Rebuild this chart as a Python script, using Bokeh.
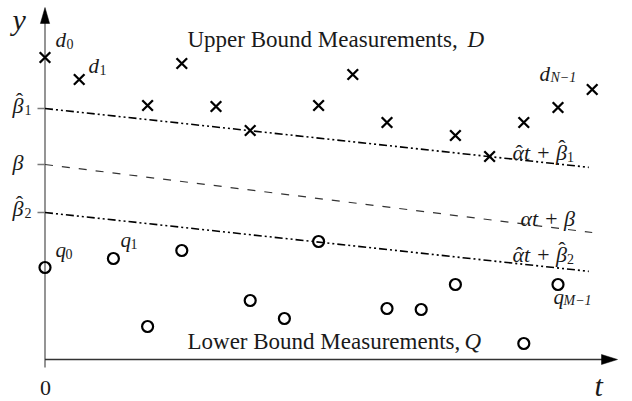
from bokeh.plotting import figure
from bokeh.models import Range1d, Label
from bokeh.embed import file_html
from bokeh.resources import INLINE

# Upper-bound measurements d_i (crosses) and their sample times
T_UPPER = [0, 1, 3, 4, 5, 6, 8, 9, 10, 12, 13, 14, 15, 16]
D_VALUES = [30.2, 28.0, 25.4, 29.6, 25.3, 22.9, 25.4, 28.5, 23.7, 22.4, 20.3, 23.7, 25.2, 27.0]

# Lower-bound measurements q_j (circles) and their sample times
T_LOWER = [0, 2, 3, 4, 6, 7, 8, 10, 11, 12, 14, 15]
Q_VALUES = [9.2, 10.1, 3.3, 10.9, 5.9, 4.1, 11.8, 5.1, 5.0, 7.5, 1.6, 7.5]

# Line parameters: estimated bounds and true line
ALPHA_HAT = -0.37
BETA_HAT_1 = 25.1
BETA_HAT_2 = 14.7
ALPHA = -0.425
BETA = 19.5
T_END_HAT = 15.9
T_END_TRUE = 16.0

W, H = 632, 401
X0_PX, STEP_PX = 44.5, 34.2      # t = 0 position and pixels per time step
Y0_PX, UNIT_PX = 359.0, 10.0     # y = 0 position and pixels per y unit
LABEL_SHIFT = 8                  # screen-unit labels render this many px low


def X(px):
    return (px - X0_PX) / STEP_PX


def Y(py):
    return (Y0_PX - py) / UNIT_PX


p = figure(width=W, height=H, x_range=Range1d(X(0), X(W)), y_range=Range1d(Y(H), Y(0)),
           x_axis_type=None, y_axis_type=None, toolbar_location=None,
           output_backend="svg", min_border=0, outline_line_color=None,
           background_fill_color="white", border_fill_color="white")
p.grid.visible = False

AX_GREY = "#7a7a7a"
INK = "#1a1a1a"

# y axis with arrow head
p.line([0, 0], [Y(367), Y(21)], line_color=AX_GREY, line_width=1.6)
p.patch([X(X0_PX), X(X0_PX - 4.6), X(X0_PX + 4.6)], [Y(7), Y(23), Y(23)],
        fill_color="black", line_color="black", line_width=0.5)
# t axis with arrow head
p.line([0, X(603)], [0, 0], line_color="#333333", line_width=1.6)
p.patch([X(617), X(601), X(601)], [0, Y(Y0_PX - 5), Y(Y0_PX + 5)],
        fill_color="black", line_color="black", line_width=0.5)

# ticks for the intercepts
for b in (BETA_HAT_1, BETA, BETA_HAT_2):
    p.line([X(37), 0], [b, b], line_color=AX_GREY, line_width=1.4)

# fitted bound lines and true line
for b in (BETA_HAT_1, BETA_HAT_2):
    p.line([0, T_END_HAT], [b, b + ALPHA_HAT * T_END_HAT], line_color="black",
           line_width=1.6, line_dash="8 3 2 3 2 3")
p.line([0, T_END_TRUE], [BETA, BETA + ALPHA * T_END_TRUE], line_color="#333333",
       line_width=1.2, line_dash="8 9")

# measurements
p.scatter(T_UPPER, D_VALUES, marker="x", size=15, line_color="black", line_width=2.3)
p.scatter(T_LOWER, Q_VALUES, marker="circle", size=11, fill_color=None,
          line_color="black", line_width=2.2)

SERIF = "Liberation Serif"


def tex(x_px, base_px, text, size, italic=True, align="left"):
    p.add_layout(Label(x=x_px, y=H - base_px + LABEL_SHIFT, x_units="screen", y_units="screen",
                       text=text, text_font=SERIF, text_font_size=f"{size}px",
                       text_font_style="italic" if italic else "normal",
                       text_color=INK, text_align=align, text_baseline="alphabetic"))


def hat(cx_px, base_px, size, tall=False):
    # circumflex accent centred on a glyph; raised further over tall letters
    lift = 0.24 * size if tall else 0.02 * size
    tex(cx_px, base_px - lift, "\u02c6", size, italic=False, align="center")


def greek_line_label(x_px, base_px, text, size, with_hats, sub):
    tex(x_px, base_px, text, size)
    if with_hats:
        hat(x_px + 0.30 * size, base_px, size)
        hat(x_px + 2.25 * size, base_px, size, tall=True)
    if sub:
        tex(x_px + 2.48 * size, base_px + 4, sub, 14, italic=False)


# axis names
tex(12, 27, "y", 30)
tex(594, 393, "t", 30)
tex(45, 395, "0", 22, italic=False, align="center")

# intercept labels
tex(12, 113, "β", 22)
hat(19, 113, 22, tall=True)
tex(24, 117, "1", 14, italic=False)
tex(12, 170, "β", 22)
tex(12, 216, "β", 22)
hat(19, 216, 22, tall=True)
tex(24, 220, "2", 14, italic=False)

# point labels
tex(55, 47, "d", 21)
tex(66, 51, "0", 14, italic=False)
tex(88, 73, "d", 21)
tex(99, 77, "1", 14, italic=False)
tex(539, 81, "d", 21)
tex(550, 85, "N\u22121", 14)
tex(55, 257, "q", 21)
tex(65, 261, "0", 14, italic=False)
tex(120, 247, "q", 21)
tex(130, 251, "1", 14, italic=False)
tex(553, 304, "q", 21)
tex(563, 308, "M\u22121", 14)

# line labels
greek_line_label(512, 160, "αt + β", 22, True, "1")
greek_line_label(520, 226, "αt + β", 22, False, None)
greek_line_label(512, 262, "αt + β", 22, True, "2")

# group captions
tex(187, 47, "Upper Bound Measurements,", 23, italic=False)
tex(467, 47, "D", 23)
tex(187, 349, "Lower Bound Measurements,", 23, italic=False)
tex(464, 349, "Q", 23)

open("out.html", "w").write(file_html(p, INLINE))
